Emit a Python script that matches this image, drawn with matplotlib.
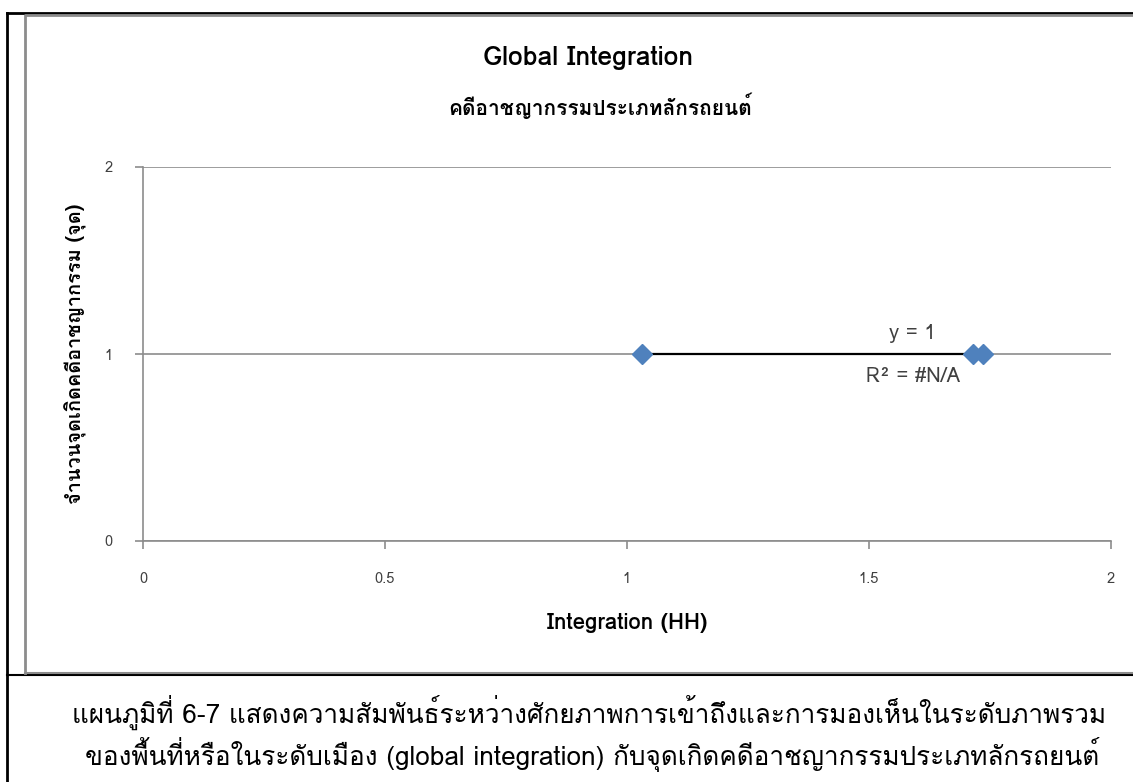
import matplotlib
matplotlib.use('Agg')
import matplotlib.pyplot as plt
from matplotlib import font_manager, ft2font
from matplotlib.lines import Line2D
import numpy as np

# 数据
integration = [1.03, 1.715, 1.735]
crime_points = [1, 1, 1]
x_ticks = [0, 0.5, 1, 1.5, 2]
x_tick_labels = ['0', '0.5', '1', '1.5', '2']
y_ticks = [0, 1, 2]

title_en = 'Global Integration'
title_th = 'คดีอาชญากรรมประเภทลักรถยนต์'
x_label = 'Integration (HH)'
y_label = 'จำนวนจุดเกิดคดีอาชญากรรม (จุด)'
eq_text = 'y = 1'
r2_text = 'R² = #N/A'
caption_1 = 'แผนภูมิที่ 6-7 แสดงความสัมพันธ์ระหว่างศักยภาพการเข้าถึงและการมองเห็นในระดับภาพรวม'
caption_2 = 'ของพื้นที่หรือในระดับเมือง (global integration) กับจุดเกิดคดีอาชญากรรมประเภทลักรถยนต์'

# 找一个能显示泰文的字体
thai_font = None
for f in font_manager.fontManager.ttflist:
    try:
        cmap = ft2font.FT2Font(f.fname).get_charmap()
    except Exception:
        continue
    if 0x0E01 in cmap:
        thai_font = f.name
        break
families = ([thai_font] if thai_font else []) + ['DejaVu Sans']
plt.rcParams['font.family'] = families

W, H = 1133, 782
fig = plt.figure(figsize=(W / 100, H / 100), dpi=100)


def fx(px):
    return px / W


def fy(py):
    return 1 - py / H


ax = fig.add_axes([fx(143), fy(541), fx(1111) - fx(143), fy(167) - fy(541)])

# 散点和趋势线
coef = np.polyfit(integration, crime_points, 1)
xs = np.array([min(integration), max(integration)])
ax.plot(xs, np.polyval(coef, xs), color='black', lw=1.6, zorder=3)
ax.plot(integration, crime_points, linestyle='none', marker='D', markersize=10,
        color='#4F81BD', markeredgecolor='#4F81BD', zorder=4)

ax.set_xlim(0, 2)
ax.set_ylim(0, 2)
ax.set_xticks(x_ticks)
ax.set_xticklabels(x_tick_labels)
ax.set_yticks(y_ticks)
ax.grid(axis='y', color='#8c8c8c', lw=1.2)
ax.set_axisbelow(True)
for s in ['top', 'right']:
    ax.spines[s].set_visible(False)
for s in ['left', 'bottom']:
    ax.spines[s].set_color('#8c8c8c')
    ax.spines[s].set_linewidth(1.2)
ax.tick_params(colors='#8c8c8c', length=6, width=1.2, labelsize=10.5, labelcolor='#404040')
ax.tick_params(axis='x', pad=16)
ax.tick_params(axis='y', pad=16)

ax.text(1.59, 1.11, eq_text, fontsize=14.5, color='#404040', ha='center', va='center')
ax.text(1.59, 0.88, r2_text, fontsize=14.5, color='#404040', ha='center', va='center')

# 标题和轴标签
fig.text(fx(588), fy(58), title_en, fontsize=19, fontweight='bold', ha='center', va='center')
fig.text(fx(600), fy(106), title_th, fontsize=15, fontweight='bold', ha='center', va='center')
fig.text(fx(627), fy(623), x_label, fontsize=16, fontweight='bold', ha='center', va='center')
fig.text(fx(76), fy(354), y_label, fontsize=14.4, fontweight='bold', ha='center', va='center',
         rotation=90)

# 边框
fig.add_artist(Line2D([fx(7), 1], [fy(13), fy(13)], color='black', lw=2))
fig.add_artist(Line2D([fx(7), fx(7)], [fy(13), 0], color='black', lw=2))
fig.add_artist(Line2D([fx(7), 1], [fy(675), fy(675)], color='black', lw=1.5))
fig.add_artist(Line2D([fx(25), fx(25), 1], [fy(673), fy(15), fy(15)], color='#8c8c8c', lw=2))
fig.add_artist(Line2D([fx(25), 1], [fy(673), fy(673)], color='#8c8c8c', lw=1.5))

# 图注
fig.text(fx(589), fy(712), caption_1, fontsize=18.8, ha='center', va='center')
fig.text(fx(592), fy(755), caption_2, fontsize=18.8, ha='center', va='center')

fig.savefig('out.png', dpi=100)
